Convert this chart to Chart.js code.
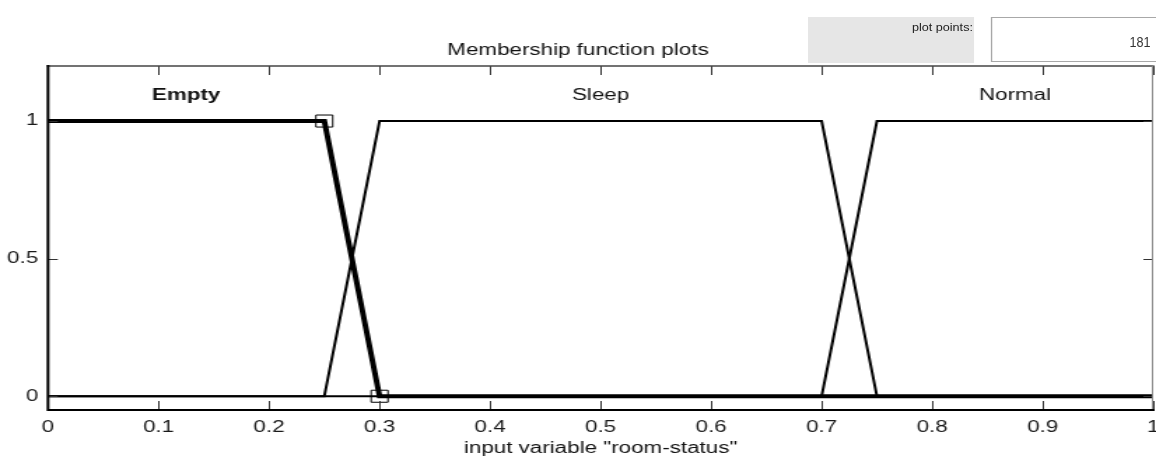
<!DOCTYPE html>
<html>
<head>
<meta charset="utf-8">
<title>Membership function plots</title>
<script src="https://cdn.jsdelivr.net/npm/chart.js@4/dist/chart.umd.min.js"></script>
<style>
  html, body { margin: 0; padding: 0; background: #fff; overflow: hidden; }
  /* the whole figure is laid out at 826px and widened to the window */
  #stage {
    position: absolute; left: 0; top: 0;
    width: 826px; height: 458px;
    transform: scaleX(1.39952); transform-origin: 0 0;
  }
  #plot { position: absolute; left: 0; top: 0; width: 826px; height: 458px; }
  .box-label { position: absolute; left: 577px; top: 17px; width: 119px; height: 46px; background: #e6e6e6; }
  .box-field { position: absolute; left: 708px; top: 17px; width: 130px; height: 45px;
               border: 1px solid #a8a8a8; box-sizing: border-box; background: #fff; }
  .narrow {
    position: absolute; font: 11px/13px "Liberation Sans", Arial, sans-serif; color: #222;
    white-space: nowrap; transform: scaleX(0.82); transform-origin: 100% 50%;
  }
  .narrow.value { font: 15px/17px "Liberation Sans", Arial, sans-serif; color: #333; transform: scaleX(0.6); }
</style>
</head>
<body>
<div id="stage">
  <div id="plot"><canvas id="mf"></canvas></div>
  <div class="box-label"></div>
  <div class="box-field"></div>
  <span class="narrow" style="right:131px; top:21px;">plot points:</span>
  <span class="narrow value" style="right:3.5px; top:32.5px;">181</span>
</div>
<script>
// axis limits and ticks
const xMin = 0, xMax = 1;
const yMin = -0.05, yMax = 1.2;
const xTickValues = [0, 0.1, 0.2, 0.3, 0.4, 0.5, 0.6, 0.7, 0.8, 0.9, 1];
const xTickLabels = ['0', '0.1', '0.2', '0.3', '0.4', '0.5', '0.6', '0.7', '0.8', '0.9', '1'];
const yTickValues = [0, 0.5, 1];
const yTickLabels = ['0', '0.5', '1'];

// membership functions of input variable "room-status" (trapezoid vertices)
const mfNames = ['Empty', 'Sleep', 'Normal'];
const emptyX  = [0, 0.25, 0.3, 1];
const emptyY  = [1, 1, 0, 0];
const sleepX  = [0, 0.25, 0.3, 0.7, 0.75, 1];
const sleepY  = [0, 0, 1, 1, 0, 0];
const normalX = [0, 0.7, 0.75, 1];
const normalY = [0, 0, 1, 1];
// vertices of the selected function that carry a handle marker
const emptyHandles = [false, true, true, false];

const FONT = '"Liberation Sans", Arial, Helvetica, sans-serif';
Chart.defaults.font.family = FONT;

const pts = (xs, ys) => xs.map((x, i) => ({ x, y: ys[i] }));
const series = [
  { name: mfNames[0], xs: emptyX,  ys: emptyY,  selected: true },
  { name: mfNames[1], xs: sleepX,  ys: sleepY,  selected: false },
  { name: mfNames[2], xs: normalX, ys: normalY, selected: false }
];

// frame, inward tick marks and the function names over the plateaus
const figureDecor = {
  id: 'figureDecor',
  afterDatasetsDraw(chart) {
    const { ctx, chartArea: a, scales: { x, y } } = chart;
    ctx.save();
    ctx.strokeStyle = '#333';
    ctx.lineWidth = 1;
    ctx.beginPath();
    xTickValues.forEach(v => {
      const px = Math.round(x.getPixelForValue(v)) + 0.5;
      ctx.moveTo(px, a.top);    ctx.lineTo(px, a.top + 9);
      ctx.moveTo(px, a.bottom); ctx.lineTo(px, a.bottom - 9);
    });
    yTickValues.forEach(v => {
      const py = Math.round(y.getPixelForValue(v)) + 0.5;
      ctx.moveTo(a.left, py);  ctx.lineTo(a.left + 7, py);
      ctx.moveTo(a.right, py); ctx.lineTo(a.right - 7, py);
    });
    ctx.stroke();

    ctx.lineCap = 'square';
    ctx.strokeStyle = '#444'; ctx.lineWidth = 1.5;
    ctx.beginPath(); ctx.moveTo(a.left, a.top); ctx.lineTo(a.right, a.top); ctx.stroke();
    ctx.strokeStyle = '#888'; ctx.lineWidth = 1;
    ctx.beginPath(); ctx.moveTo(a.right - 0.5, a.top); ctx.lineTo(a.right - 0.5, a.bottom); ctx.stroke();
    ctx.strokeStyle = '#000'; ctx.lineWidth = 2;
    ctx.beginPath(); ctx.moveTo(a.left, a.top); ctx.lineTo(a.left, a.bottom); ctx.lineTo(a.right, a.bottom); ctx.stroke();

    ctx.fillStyle = '#111';
    ctx.textAlign = 'center';
    ctx.textBaseline = 'alphabetic';
    series.forEach(s => {
      const top = s.xs.filter((v, i) => s.ys[i] === 1);
      const cx = (Math.min(...top) + Math.max(...top)) / 2;
      ctx.font = (s.selected ? 'bold ' : '') + '16px ' + FONT;
      ctx.fillText(s.name, x.getPixelForValue(cx), y.getPixelForValue(1) - 21);
    });
    ctx.restore();
  }
};

new Chart(document.getElementById('mf'), {
  type: 'scatter',
  data: {
    datasets: series.map(s => ({
      label: s.name,
      data: pts(s.xs, s.ys),
      showLine: true,
      tension: 0,
      borderColor: '#000',
      borderWidth: s.selected ? 4 : 2,
      borderJoinStyle: 'miter',
      pointStyle: 'rect',
      pointRadius: s.selected ? emptyHandles.map(h => h ? 8.5 : 0) : 0,
      pointHoverRadius: s.selected ? emptyHandles.map(h => h ? 8.5 : 0) : 0,
      pointBorderWidth: 1,
      pointBorderColor: '#000',
      pointBackgroundColor: 'rgba(0,0,0,0)'
    }))
  },
  options: {
    responsive: true,
    maintainAspectRatio: false,
    animation: false,
    events: [],
    layout: { padding: { top: 40.8, left: 0, right: 0, bottom: 0 } },
    plugins: {
      legend: { display: false },
      tooltip: { enabled: false },
      title: {
        display: true,
        text: 'Membership function plots',
        color: '#111',
        font: { size: 16, weight: 'normal' },
        padding: { top: 0, bottom: 6 }
      }
    },
    scales: {
      x: {
        type: 'linear', min: xMin, max: xMax,
        grid: { display: false, drawTicks: false },
        border: { display: false },
        afterBuildTicks: s => { s.ticks = xTickValues.map(v => ({ value: v })); },
        ticks: {
          autoSkip: false, maxRotation: 0, padding: 8, color: '#1a1a1a',
          font: { size: 16 },
          callback: (v, i) => xTickLabels[i]
        },
        title: {
          display: true, text: 'input variable "room-status"', color: '#111',
          font: { size: 16 }, padding: { top: 0, bottom: 0 }
        },
        afterFit: s => { s.height = 48; s.paddingLeft = 0; s.paddingRight = 0; }
      },
      y: {
        type: 'linear', min: yMin, max: yMax,
        grid: { display: false, drawTicks: false },
        border: { display: false },
        afterBuildTicks: s => { s.ticks = yTickValues.map(v => ({ value: v })); },
        ticks: {
          padding: 7, color: '#1a1a1a', font: { size: 16 },
          callback: (v, i) => yTickLabels[i]
        },
        afterFit: s => { s.width = 34.3; s.paddingTop = 0; s.paddingBottom = 0; }
      }
    }
  },
  plugins: [figureDecor]
});
</script>
</body>
</html>
